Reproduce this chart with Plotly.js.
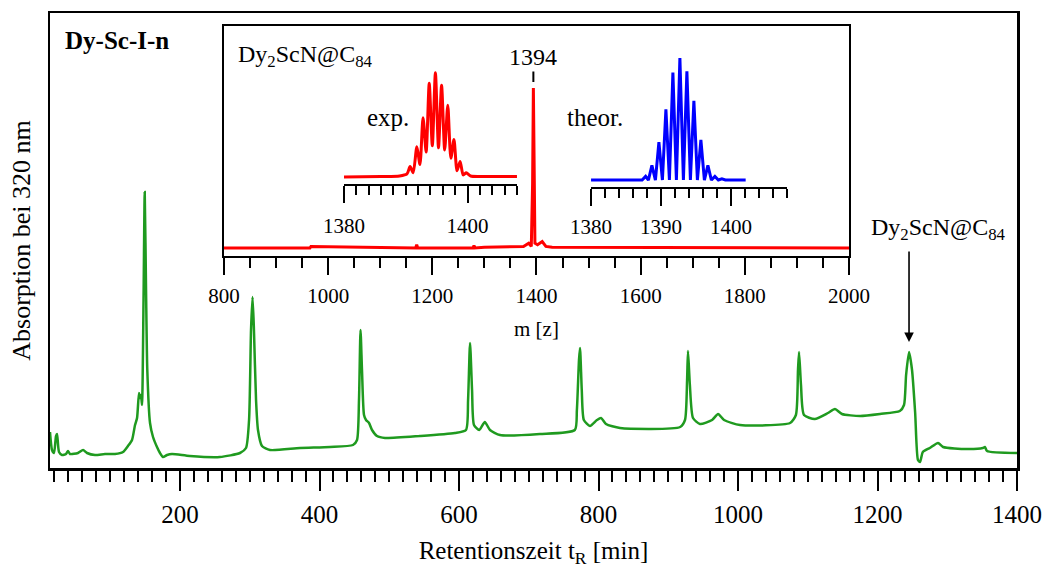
<!DOCTYPE html>
<html>
<head>
<meta charset="utf-8">
<script src="https://cdn.plot.ly/plotly-3.0.1.min.js"></script>
<style>html,body{margin:0;padding:0;background:#fff;}#chart{width:1046px;height:568px;}</style>
</head>
<body>
<div id="chart"></div>
<script>
// HPLC chromatogram (retention time in min, absorption in arbitrary units)
const retTime = [13.6,16.5,19.4,22.2,23.7,26.5,30.8,36.6,39.4,42.3,53.8,61,66.7,78.1,92.5,106.8,118.3,125.4,131.2,135.5,138.4,141.2,142.7,144.1,145.5,147.7,149.4,151.3,153.1,157,161.3,167,171.3,175.6,181.4,188.5,214,257,286,294.6,299,301.8,304,306,309,311.8,317.5,329,372,415,448,453.8,456.6,458.8,460.9,463.8,466.7,471,475.3,482.4,494,544,594,610,613,615.8,618.7,621.5,629,637,644.4,658.8,716,766,769,772,773.5,776,779,787.8,797.8,803.6,810.7,830.8,917,924,927,928.3,931,935.5,945.5,962.8,971.4,980,1003,1074.6,1083,1086,1087.5,1090.3,1094.6,1110,1129,1139,1149,1175,1203.6,1232,1238,1241,1245.2,1249.5,1254,1258,1261,1265,1275,1286.8,1294,1328,1351,1354,1357,1400];
const absorption = [36,18,15,32,34,16,13,14,17,14,15,18,15,13,14,14,16,22,28,43,50,75,70,73,63,168,276,178,98,45,31,21,15,11,13,14,12,11,15,20,48,138,171,138,68,38,22,18,20,21,23,28,68,138,98,53,48,45,38,32,30,32,35,38,68,125,78,43,38,46,38,33,34,38,58,108,120,78,48,42,48,50,44,40,41,48,88,117,83,50,44,48,54,48,43,45,53,98,116,83,53,49,55,59,54,52,54,57,63,93,116,98,55,8,6,16,20,25,21,19,20,21,17,15];

// Mass spectrum (inset)
const msMz  = [800,965,967,1168,1170,1172,1278,1280,1282,1300,1375,1385,1390,1392.5,1394,1395.5,1397,1402,1411,1418,1430,2000];
const msInt = [0,0,1,0,2,0,0,1.5,0,0.5,1,3,1,40,100,40,3,2,4,1,0.5,0];

// Isotope pattern, experimental
const expMz  = [1380,1386,1389,1390.2,1390.7,1391.2,1391.8,1392.3,1392.8,1393.3,1393.8,1394.3,1394.8,1395.3,1395.8,1396.3,1396.8,1397.3,1397.8,1398.3,1398.8,1399.3,1399.8,1400.5,1402,1408];
const expInt = [0,0.5,1,3,10,4,29,12,57,24,90,30,100,28,88,26,69,18,36,6,15,2,4,1,0.5,0.5];

// Isotope pattern, theoretical
const theorMz  = [1380,1387.3,1387.8,1388.2,1388.7,1389.2,1389.7,1390.2,1390.7,1391.2,1391.7,1392.2,1392.7,1393.2,1393.7,1394.2,1394.7,1395.2,1395.7,1396.2,1396.7,1397.2,1397.7,1398.2,1398.7,1399.2,1402.1];
const theorInt = [0,0,3,0,12,0,31,0,58,0,88,0,100,0,89,0,65,0,33,0,12,0,3,0,1,0,0];

const FAM = 'Liberation Serif';
const f = (s) => ({family: FAM, size: s, color: '#000'});
const GREEN = '#1f9a1f', RED = '#ff0000', BLUE = '#0000ff';

const traces = [
  {x: retTime, y: absorption, xaxis: 'x', yaxis: 'y', mode: 'lines',
   line: {color: GREEN, width: 2.5, shape: 'spline', smoothing: 0.6}, hoverinfo: 'skip'},
  {x: msMz, y: msInt, xaxis: 'x2', yaxis: 'y2', mode: 'lines',
   line: {color: RED, width: 3}, hoverinfo: 'skip'},
  {x: expMz, y: expInt, xaxis: 'x3', yaxis: 'y3', mode: 'lines',
   line: {color: RED, width: 3, shape: 'spline', smoothing: 0.7}, hoverinfo: 'skip'},
  {x: theorMz, y: theorInt, xaxis: 'x4', yaxis: 'y4', mode: 'lines',
   line: {color: BLUE, width: 3}, hoverinfo: 'skip'}
];

const tickCommon = {ticks: 'outside', tickcolor: '#000', tickwidth: 2, showline: true, linecolor: '#000', zeroline: false, showgrid: false};

const layout = {
  width: 1046, height: 568,
  margin: {l: 50, r: 29, t: 13, b: 100},
  paper_bgcolor: '#fff', plot_bgcolor: 'rgba(0,0,0,0)',
  showlegend: false,
  font: f(24),
  xaxis: Object.assign({}, tickCommon, {
    domain: [0, 1], anchor: 'y', range: [13.6, 1400], linewidth: 2.5, mirror: true,
    tick0: 0, dtick: 200, ticklen: 20, ticklabelstandoff: 2,
    minor: {dtick: 20, tick0: 0, ticklen: 11, tickwidth: 2, ticks: 'outside', tickcolor: '#000', showgrid: false},
    tickfont: f(25),
    title: {text: 'Retentionszeit t<sub>R</sub> [min]', font: f(25), standoff: 16}
  }),
  xaxis5: {overlaying: 'x', anchor: 'y', side: 'bottom', range: [13.6, 1400], tick0: 0, dtick: 100,
    ticks: 'outside', ticklen: 15, tickwidth: 2, tickcolor: '#000', showticklabels: false,
    showline: false, showgrid: false, zeroline: false},
  yaxis: {domain: [0, 1], anchor: 'x', range: [0, 455], showline: true, linecolor: '#000', linewidth: 2.5, mirror: true,
    ticks: '', showticklabels: false, showgrid: false, zeroline: false,
    title: {text: 'Absorption bei 320 nm', font: f(26), standoff: 10}},
  xaxis2: Object.assign({}, tickCommon, {
    domain: [0.1799, 0.8263], anchor: 'y2', range: [800, 2000], linewidth: 2, mirror: true,
    tick0: 800, dtick: 200, ticklen: 17, ticklabelstandoff: 3,
    minor: {dtick: 50, tick0: 800, ticklen: 10, tickwidth: 2, ticks: 'outside', tickcolor: '#000', showgrid: false},
    tickfont: f(21),
    title: {text: 'm [z]', font: f(21), standoff: 14}
  }),
  yaxis2: {domain: [0.4659, 0.9714], anchor: 'x2', range: [-5, 138.75], showline: true, linecolor: '#000', linewidth: 2,
    mirror: true, ticks: '', showticklabels: false, showgrid: false, zeroline: false},
  xaxis3: Object.assign({}, tickCommon, {
    domain: [0.304, 0.4829], anchor: 'y3', range: [1380, 1408], linewidth: 2,
    tickmode: 'array', tickvals: [1380, 1400], ticklen: 17, ticklabelstandoff: 5,
    minor: {dtick: 2, tick0: 1380, ticklen: 9, tickwidth: 2, ticks: 'outside', tickcolor: '#000', showgrid: false},
    tickfont: f(21)
  }),
  yaxis3: {domain: [0.6242, 0.9714], anchor: 'x3', range: [-6.7, 145], visible: false},
  xaxis4: Object.assign({}, tickCommon, {
    domain: [0.5595, 0.7621], anchor: 'y4', range: [1380, 1408], linewidth: 2,
    tickmode: 'array', tickvals: [1380, 1390, 1400], ticklen: 17, ticklabelstandoff: 3,
    minor: {dtick: 2, tick0: 1380, ticklen: 9, tickwidth: 2, ticks: 'outside', tickcolor: '#000', showgrid: false},
    tickfont: f(21)
  }),
  yaxis4: {domain: [0.6176, 0.9714], anchor: 'x4', range: [-5.7, 126.2], visible: false},
  annotations: [
    {xref: 'paper', yref: 'paper', x: 0.0134, y: 0.9385, xanchor: 'left', yanchor: 'middle',
     text: '<b>Dy-Sc-I-n</b>', showarrow: false, font: f(25)},
    {xref: 'paper', yref: 'paper', x: 0.1923, y: 0.905, xanchor: 'left', yanchor: 'middle',
     text: 'Dy<sub>2</sub>ScN@C<sub>84</sub>', showarrow: false, font: f(24)},
    {xref: 'x2', yref: 'y2', x: 1394, y: 103.75, ax: 0, ay: -25, text: '1394', showarrow: true,
     arrowhead: 0, arrowwidth: 2, arrowcolor: '#000', standoff: 0, font: f(24)},
    {xref: 'paper', yref: 'paper', x: 0.3495, y: 0.7714, xanchor: 'center', yanchor: 'middle',
     text: 'exp.', showarrow: false, font: f(25)},
    {xref: 'paper', yref: 'paper', x: 0.5636, y: 0.7714, xanchor: 'center', yanchor: 'middle',
     text: 'theor.', showarrow: false, font: f(25)},
    {xref: 'paper', yref: 'paper', x: 0.9193, y: 0.525, xanchor: 'center', yanchor: 'middle',
     text: 'Dy<sub>2</sub>ScN@C<sub>84</sub>', showarrow: false, font: f(24)},
    {xref: 'x', yref: 'y', x: 1245.2, y: 126, ax: 0, ay: -92, text: '', showarrow: true,
     arrowhead: 2, arrowsize: 1.2, arrowwidth: 1.6, arrowcolor: '#000', standoff: 0}
  ]
};

Plotly.newPlot('chart', traces, layout, {staticPlot: true, displayModeBar: false});
</script>
</body>
</html>
